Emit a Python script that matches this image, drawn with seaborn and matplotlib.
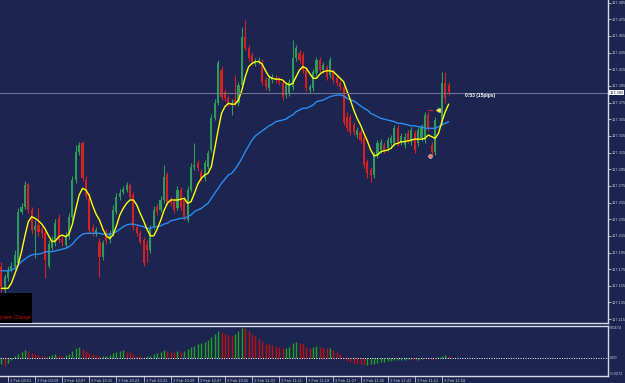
import numpy as np
import pandas as pd
import seaborn as sns
import matplotlib.pyplot as plt
from matplotlib.patches import Rectangle
from matplotlib.transforms import ScaledTranslation

# M1 candles, first bar 3 Feb 09:49
opens = [117.178, 117.150, 117.164, 117.174, 117.178, 117.182, 117.244, 117.250, 117.277, 117.246,
         117.222, 117.228, 117.223, 117.218, 117.179, 117.200, 117.206, 117.236, 117.211, 117.204,
         117.214, 117.238, 117.282, 117.316, 117.326, 117.282, 117.260, 117.224, 117.218, 117.208,
         117.190, 117.218, 117.210, 117.218, 117.244, 117.262, 117.268, 117.270, 117.276, 117.264,
         117.226, 117.218, 117.210, 117.204, 117.198, 117.226, 117.250, 117.246, 117.258, 117.288,
         117.258, 117.256, 117.248, 117.270, 117.258, 117.234, 117.270, 117.298, 117.302, 117.292,
         117.284, 117.298, 117.318, 117.356, 117.374, 117.414, 117.388, 117.380, 117.372, 117.378,
         117.374, 117.396, 117.454, 117.440, 117.432, 117.421, 117.424, 117.424, 117.402, 117.392,
         117.402, 117.404, 117.402, 117.398, 117.384, 117.386, 117.394, 117.428, 117.434, 117.432,
         117.414, 117.390, 117.392, 117.410, 117.426, 117.414, 117.416, 117.408, 117.412, 117.404,
         117.398, 117.394, 117.358, 117.358, 117.348, 117.336, 117.340, 117.332, 117.304, 117.294,
         117.288, 117.312, 117.318, 117.324, 117.320, 117.326, 117.326, 117.344, 117.328, 117.324,
         117.338, 117.328, 117.338, 117.326, 117.332, 117.330, 117.360, 117.324, 117.316, 117.366,
         117.352, 117.398, 117.396]
closes = [117.154, 117.166, 117.174, 117.179, 117.192, 117.244, 117.250, 117.276, 117.246, 117.222,
          117.227, 117.220, 117.218, 117.186, 117.205, 117.210, 117.230, 117.210, 117.208, 117.214,
          117.238, 117.282, 117.316, 117.324, 117.284, 117.263, 117.222, 117.220, 117.222, 117.190,
          117.206, 117.209, 117.218, 117.246, 117.262, 117.266, 117.271, 117.276, 117.262, 117.226,
          117.218, 117.208, 117.182, 117.198, 117.224, 117.246, 117.244, 117.258, 117.286, 117.256,
          117.254, 117.246, 117.270, 117.250, 117.238, 117.270, 117.298, 117.300, 117.296, 117.284,
          117.302, 117.314, 117.356, 117.374, 117.422, 117.382, 117.380, 117.374, 117.374, 117.374,
          117.396, 117.454, 117.440, 117.428, 117.424, 117.424, 117.426, 117.400, 117.394, 117.404,
          117.406, 117.402, 117.400, 117.382, 117.396, 117.400, 117.428, 117.440, 117.426, 117.414,
          117.392, 117.394, 117.412, 117.426, 117.414, 117.420, 117.406, 117.426, 117.402, 117.398,
          117.394, 117.352, 117.344, 117.340, 117.340, 117.342, 117.330, 117.300, 117.290, 117.288,
          117.312, 117.326, 117.328, 117.318, 117.330, 117.332, 117.344, 117.326, 117.335, 117.334,
          117.330, 117.342, 117.318, 117.342, 117.346, 117.360, 117.344, 117.316, 117.354, 117.367,
          117.398, 117.380, 117.388]
highs = [117.184, 117.169, 117.179, 117.184, 117.198, 117.248, 117.254, 117.281, 117.278, 117.250,
         117.234, 117.248, 117.227, 117.222, 117.210, 117.215, 117.235, 117.241, 117.215, 117.220,
         117.242, 117.287, 117.324, 117.328, 117.329, 117.287, 117.266, 117.229, 117.226, 117.212,
         117.210, 117.223, 117.222, 117.252, 117.266, 117.271, 117.275, 117.280, 117.278, 117.268,
         117.229, 117.222, 117.214, 117.210, 117.228, 117.251, 117.253, 117.263, 117.300, 117.292,
         117.262, 117.259, 117.275, 117.274, 117.262, 117.275, 117.302, 117.326, 117.306, 117.295,
         117.306, 117.318, 117.361, 117.379, 117.426, 117.419, 117.391, 117.384, 117.379, 117.408,
         117.400, 117.466, 117.474, 117.444, 117.436, 117.428, 117.430, 117.427, 117.406, 117.408,
         117.409, 117.408, 117.406, 117.402, 117.400, 117.403, 117.450, 117.444, 117.438, 117.436,
         117.418, 117.397, 117.415, 117.430, 117.430, 117.424, 117.420, 117.430, 117.415, 117.408,
         117.402, 117.397, 117.364, 117.361, 117.352, 117.346, 117.343, 117.336, 117.307, 117.298,
         117.316, 117.330, 117.331, 117.328, 117.334, 117.336, 117.348, 117.348, 117.338, 117.338,
         117.342, 117.346, 117.342, 117.346, 117.349, 117.364, 117.364, 117.328, 117.358, 117.370,
         117.412, 117.412, 117.400]
lows = [117.148, 117.144, 117.161, 117.172, 117.174, 117.179, 117.241, 117.247, 117.242, 117.217,
        117.188, 117.215, 117.212, 117.164, 117.176, 117.198, 117.203, 117.206, 117.203, 117.200,
        117.211, 117.234, 117.278, 117.312, 117.281, 117.259, 117.218, 117.215, 117.215, 117.166,
        117.186, 117.205, 117.206, 117.215, 117.241, 117.258, 117.265, 117.268, 117.258, 117.222,
        117.215, 117.205, 117.179, 117.184, 117.194, 117.223, 117.240, 117.244, 117.254, 117.252,
        117.251, 117.242, 117.246, 117.246, 117.234, 117.232, 117.268, 117.294, 117.293, 117.281,
        117.281, 117.295, 117.316, 117.354, 117.372, 117.378, 117.377, 117.371, 117.360, 117.371,
        117.371, 117.392, 117.438, 117.425, 117.420, 117.419, 117.421, 117.396, 117.390, 117.389,
        117.398, 117.398, 117.396, 117.378, 117.380, 117.383, 117.390, 117.425, 117.422, 117.410,
        117.389, 117.386, 117.389, 117.407, 117.410, 117.410, 117.402, 117.404, 117.398, 117.395,
        117.390, 117.348, 117.341, 117.336, 117.336, 117.332, 117.326, 117.296, 117.284, 117.280,
        117.284, 117.308, 117.314, 117.314, 117.317, 117.323, 117.323, 117.323, 117.324, 117.320,
        117.326, 117.324, 117.314, 117.323, 117.329, 117.326, 117.341, 117.312, 117.312, 117.364,
        117.348, 117.374, 117.384]

# fast (yellow) and slow (blue) moving averages as drawn on the chart
ma_fast = [117.152, 117.152, 117.152, 117.158, 117.169, 117.180, 117.196, 117.215, 117.232, 117.238,
           117.236, 117.233, 117.229, 117.223, 117.215, 117.208, 117.209, 117.214, 117.216, 117.214,
           117.217, 117.229, 117.247, 117.264, 117.272, 117.270, 117.263, 117.251, 117.241, 117.234,
           117.223, 117.215, 117.212, 117.216, 117.227, 117.240, 117.248, 117.254, 117.258, 117.258,
           117.252, 117.242, 117.233, 117.223, 117.215, 117.215, 117.223, 117.233, 117.245, 117.254,
           117.258, 117.258, 117.258, 117.259, 117.260, 117.254, 117.256, 117.266, 117.277, 117.284,
           117.288, 117.290, 117.298, 117.320, 117.342, 117.362, 117.370, 117.374, 117.373, 117.373,
           117.378, 117.390, 117.406, 117.418, 117.422, 117.424, 117.424, 117.421, 117.413, 117.406,
           117.404, 117.403, 117.403, 117.402, 117.398, 117.396, 117.398, 117.406, 117.414, 117.418,
           117.416, 117.410, 117.404, 117.404, 117.409, 117.412, 117.413, 117.413, 117.412, 117.408,
           117.404, 117.400, 117.389, 117.378, 117.366, 117.356, 117.348, 117.338, 117.329, 117.318,
           117.311, 117.312, 117.316, 117.317, 117.318, 117.320, 117.325, 117.326, 117.328, 117.328,
           117.329, 117.330, 117.331, 117.331, 117.331, 117.332, 117.336, 117.334, 117.332, 117.338,
           117.352, 117.364, 117.373]
ma_slow = [117.173, 117.173, 117.173, 117.174, 117.176, 117.180, 117.184, 117.187, 117.190, 117.192,
           117.193, 117.193, 117.194, 117.196, 117.196, 117.196, 117.197, 117.198, 117.199, 117.200,
           117.202, 117.205, 117.210, 117.214, 117.217, 117.218, 117.218, 117.218, 117.218, 117.218,
           117.217, 117.217, 117.217, 117.218, 117.220, 117.223, 117.226, 117.228, 117.229, 117.229,
           117.228, 117.227, 117.226, 117.224, 117.224, 117.226, 117.226, 117.227, 117.229, 117.230,
           117.233, 117.234, 117.235, 117.236, 117.236, 117.238, 117.240, 117.244, 117.246, 117.248,
           117.251, 117.254, 117.260, 117.266, 117.272, 117.278, 117.283, 117.288, 117.290, 117.295,
           117.301, 117.308, 117.316, 117.323, 117.330, 117.335, 117.338, 117.341, 117.344, 117.347,
           117.349, 117.352, 117.353, 117.354, 117.355, 117.358, 117.360, 117.364, 117.366, 117.368,
           117.368, 117.370, 117.372, 117.376, 117.377, 117.378, 117.380, 117.382, 117.383, 117.384,
           117.384, 117.383, 117.380, 117.378, 117.377, 117.374, 117.371, 117.368, 117.366, 117.362,
           117.360, 117.358, 117.356, 117.355, 117.354, 117.353, 117.352, 117.350, 117.350, 117.349,
           117.348, 117.347, 117.347, 117.346, 117.346, 117.344, 117.344, 117.344, 117.344, 117.346,
           117.348, 117.350, 117.352]

# oscillator in the lower window
osc = [-0.010, -0.012, -0.008, -0.004, 0.002, 0.006, 0.009, 0.012, 0.010, 0.007,
       0.005, 0.004, 0.003, 0.002, 0.003, 0.004, 0.005, 0.004, 0.003, 0.004,
       0.006, 0.010, 0.014, 0.016, 0.013, 0.010, 0.007, 0.005, 0.004, 0.002,
       0.002, 0.003, 0.004, 0.007, 0.009, 0.010, 0.011, 0.009, 0.008, 0.005,
       0.003, 0.002, 0.001, 0.002, 0.003, 0.005, 0.007, 0.009, 0.011, 0.010,
       0.009, 0.008, 0.010, 0.009, 0.010, 0.013, 0.016, 0.018, 0.020, 0.022,
       0.024, 0.027, 0.031, 0.035, 0.040, 0.038, 0.036, 0.034, 0.033, 0.036,
       0.040, 0.045, 0.044, 0.040, 0.036, 0.032, 0.028, 0.024, 0.021, 0.020,
       0.019, 0.017, 0.016, 0.014, 0.015, 0.016, 0.022, 0.024, 0.022, 0.020,
       0.016, 0.015, 0.016, 0.018, 0.016, 0.015, 0.014, 0.015, 0.012, 0.009,
       0.005, -0.002, -0.005, -0.007, -0.008, -0.009, -0.010, -0.011, -0.011, -0.010,
       -0.009, -0.008, -0.007, -0.006, -0.005, -0.005, -0.004, -0.004, -0.003, -0.003,
       -0.002, -0.002, -0.004, -0.003, -0.002, -0.001, -0.002, -0.003, -0.001, 0.001,
       0.003, 0.004, 0.003]

price_labels = ["117.115", "117.135", "117.155", "117.175", "117.195", "117.215", "117.235",
                "117.255", "117.275", "117.295", "117.315", "117.335", "117.355", "117.375",
                "117.395", "117.415", "117.435", "117.455", "117.475", "117.495"]
time_labels = ["09:51", "09:59", "10:07", "10:15", "10:23", "10:31", "10:39", "10:47", "10:55",
               "11:03", "11:11", "11:19", "11:27", "11:35", "11:43", "11:51", "11:59"]
osc_labels = ["-0.0272", "0.00", "0.0474"]
bid = 117.387

BG = "#1c2550"
FG = "#c4c8d8"
GREEN = "#2f9a5a"
RED = "#d42222"
FS = 2.9

sns.set_theme(style="dark", rc={"axes.facecolor": BG, "figure.facecolor": BG})
plt.rcParams['font.family'] = ['Liberation Sans', 'DejaVu Sans']

n = len(closes)
bar_times = pd.date_range("2015-02-03 09:49", periods=n, freq="min").strftime("%H:%M").tolist()
df = pd.DataFrame({"bar": np.arange(n), "open": opens, "high": highs, "low": lows,
                   "close": closes, "fast": ma_fast, "slow": ma_slow, "osc": osc})

W, H = 625, 383
fig = plt.figure(figsize=(W / 100, H / 100), dpi=100)
ax = fig.add_axes([0, 1 - 323 / H, 608 / W, 323 / H])
ax2 = fig.add_axes([0, 1 - 376 / H, 608 / W, 50 / H])

# candles
up = df["close"] >= df["open"]
col = np.where(up, GREEN, RED)
ax.vlines(df["bar"], df["low"], df["high"], colors=col, lw=0.8)
body = (df["close"] - df["open"]).abs().clip(lower=0.0009)
ax.bar(df["bar"], body, bottom=np.minimum(df["open"], df["close"]), width=0.62, color=col, linewidth=0)

sns.lineplot(data=df, x="bar", y="slow", color="#2a8cf0", lw=1.0, ax=ax)
sns.lineplot(data=df, x="bar", y="fast", color="#ffff00", lw=1.0, ax=ax)

ax.axhline(bid, color="#6f7590", lw=0.8)
ax.text(1.002, bid, "117.386", transform=ax.get_yaxis_transform(), fontsize=FS, color="#1c2550",
        va="center", ha="left", bbox=dict(facecolor="white", edgecolor="none", pad=0.4))
ax.text(465 / 608, 1 - 95 / 323, "0:53 (15pips)", transform=ax.transAxes, fontsize=3.5,
        color="white", fontweight="bold", va="center")

# small objects near the last bars
ax.scatter([126.6], [117.311], s=7, color="#ff6060", edgecolors="white", linewidths=0.4, zorder=5)
ax.scatter([128.9], [117.366], s=6, marker="<", color="#ffe060", zorder=5)
ax.hlines(117.366, 125.8, 127.3, color="#d42222", lw=0.8)

ax.set_xlim(-0.35, 179)
ax.set_ylim(117.1104, 117.498)
ax.set_xticks([])
ax.yaxis.tick_right()
ax.set_yticks([float(p) for p in price_labels])
ax.set_yticklabels(price_labels)
ax.tick_params(axis="y", colors=FG, labelsize=FS, length=2, width=0.6, pad=0.6, direction="out", right=True)
ax.set_xlabel("")
ax.set_ylabel("")
for s in ["left", "top"]:
    ax.spines[s].set_visible(False)
for s in ["right", "bottom"]:
    ax.spines[s].set_color("#d8dbe6")
    ax.spines[s].set_linewidth(1)

# lower window histogram, green while rising, red while falling
ocol = ["#22a022" if i == 0 or osc[i] >= osc[i - 1] else "#c01010" for i in range(n)]
ax2.vlines(df["bar"], 0, df["osc"], colors=ocol, lw=1.0)
ax2.axhline(0, color="white", lw=0.7, ls=(0, (1, 1.5)))
ax2.set_xlim(-0.35, 179)
ax2.set_ylim(-0.0272, 0.0474)
ax2.yaxis.tick_right()
ax2.set_yticks([-0.0272, 0.0, 0.0474])
ax2.set_yticklabels(osc_labels)
for lab, va in zip(ax2.get_yticklabels(), ["bottom", "center", "top"]):
    lab.set_va(va)
ax2.tick_params(axis="y", colors=FG, labelsize=FS, length=0, pad=1.5)

# time labels sit beside their tick marks, as in the terminal
tick_bars = [bar_times.index(t) for t in time_labels]
ax2.set_xticks(tick_bars)
ax2.set_xticklabels(["3 Feb " + t for t in time_labels], ha="left")
ax2.tick_params(axis="x", colors=FG, labelsize=FS, length=4.5, width=0.6, pad=-2.6, direction="out", bottom=True)
shift = ScaledTranslation(2 / 100, 0, fig.dpi_scale_trans)
for lab in ax2.get_xticklabels():
    lab.set_transform(lab.get_transform() + shift)
ax2.set_xlabel("")
ax2.set_ylabel("")
ax2.spines["left"].set_visible(False)
for s in ["right", "bottom", "top"]:
    ax2.spines[s].set_color("#d8dbe6")
    ax2.spines[s].set_linewidth(1)

# black info box at the bottom left of the price window
fig.add_artist(Rectangle((0, 1 - 323 / H), 32 / W, 30 / H, transform=fig.transFigure,
                         facecolor="black", edgecolor="none", zorder=10))
fig.text(0.5 / W, 1 - 318 / H, "ystem Change", fontsize=3.3, color="#d01010", va="center", zorder=11)

fig.savefig("out.png", dpi=100, facecolor=BG)
